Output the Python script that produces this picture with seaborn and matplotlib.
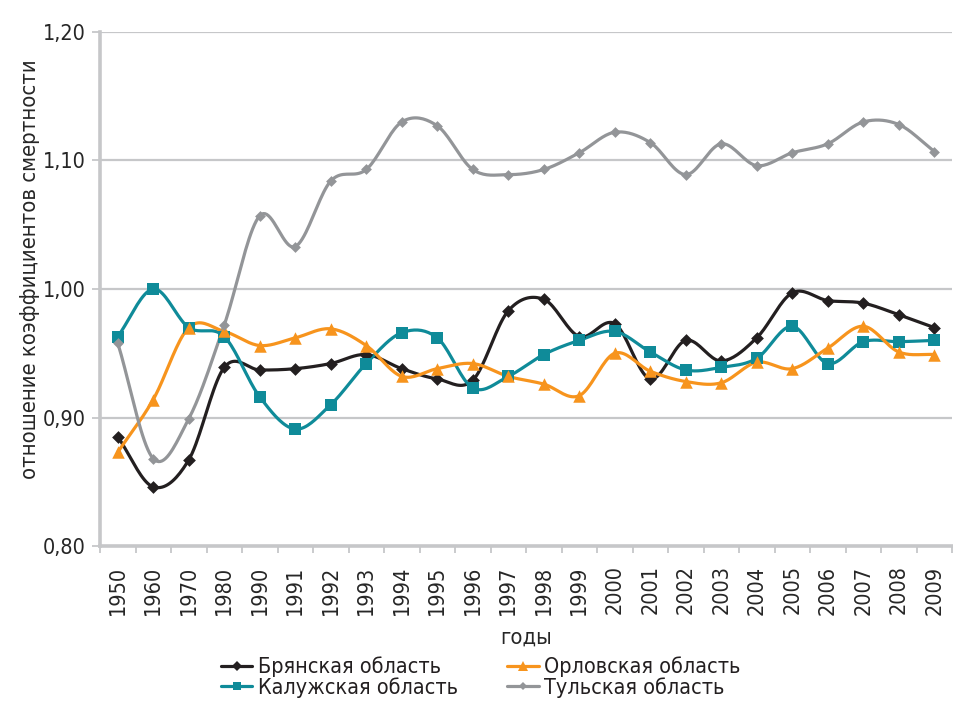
import numpy as np
import pandas as pd
import matplotlib
matplotlib.use("Agg")
import matplotlib.pyplot as plt
from matplotlib import font_manager
from matplotlib.ft2font import FT2Font
from matplotlib.lines import Line2D
from matplotlib.ticker import FixedLocator
import seaborn as sns

years = ["1950", "1960", "1970", "1980", "1990", "1991", "1992", "1993", "1994", "1995",
         "1996", "1997", "1998", "1999", "2000", "2001", "2002", "2003", "2004", "2005",
         "2006", "2007", "2008", "2009"]

bryansk = [0.885, 0.846, 0.867, 0.939, 0.937, 0.938, 0.942, 0.949, 0.938, 0.930,
           0.929, 0.983, 0.992, 0.963, 0.973, 0.930, 0.960, 0.944, 0.962, 0.997,
           0.991, 0.989, 0.980, 0.970]
kaluga = [0.963, 1.000, 0.970, 0.963, 0.916, 0.891, 0.910, 0.942, 0.966, 0.962,
          0.923, 0.932, 0.949, 0.960, 0.967, 0.951, 0.937, 0.939, 0.946, 0.971,
          0.942, 0.959, 0.959, 0.960]
orel = [0.873, 0.914, 0.970, 0.967, 0.956, 0.962, 0.969, 0.956, 0.932, 0.938,
        0.942, 0.932, 0.926, 0.917, 0.950, 0.936, 0.928, 0.927, 0.943, 0.938,
        0.954, 0.971, 0.951, 0.949]
tula = [0.958, 0.868, 0.899, 0.972, 1.057, 1.033, 1.084, 1.093, 1.130, 1.127,
        1.093, 1.089, 1.093, 1.106, 1.122, 1.114, 1.089, 1.113, 1.096, 1.106,
        1.113, 1.130, 1.128, 1.107]

series_names = ["Брянская область", "Калужская область", "Орловская область", "Тульская область"]
series_values = [bryansk, kaluga, orel, tula]
colors = ["#231f20", "#0f8b99", "#f7941d", "#939598"]
markers = ["D", "s", "^", "D"]
msizes = [6.5, 8, 9, 5.5]

y_ticks = [0.80, 0.90, 1.00, 1.10, 1.20]
y_tick_labels = ["0,80", "0,90", "1,00", "1,10", "1,20"]

sns.set_theme(style="white")


def has_cyrillic(path):
    try:
        cm = FT2Font(path).get_charmap()
        return all(ord(ch) in cm for ch in "БяКлужТьыоd0")
    except Exception:
        return False


chosen = None
for f in font_manager.fontManager.ttflist:
    is_narrow = ("Narrow" in f.name or "Condensed" in f.name
                 or f.stretch in ("condensed", "semi-condensed"))
    if is_narrow and f.style == "normal" and f.weight in (400, "normal", "regular") \
            and has_cyrillic(f.fname):
        chosen = f
        break

if chosen is not None:
    plt.rcParams["font.family"] = [chosen.name, "DejaVu Sans"]
    plt.rcParams["font.stretch"] = chosen.stretch
    fs_tick, fs_lab, fs_leg = 15.5, 15.8, 15.5
else:
    avail = {f.name for f in font_manager.fontManager.ttflist}
    plt.rcParams["font.family"] = [f for f in ["Open Sans", "DejaVu Sans"] if f in avail]
    fs_tick, fs_lab, fs_leg = 14.5, 15, 15
plt.rcParams["text.color"] = "#231f20"


def catmull_rom(x, y, n=20):
    x = np.asarray(x, float)
    y = np.asarray(y, float)
    px = np.concatenate([[2 * x[0] - x[1]], x, [2 * x[-1] - x[-2]]])
    py = np.concatenate([[2 * y[0] - y[1]], y, [2 * y[-1] - y[-2]]])
    xs, ys = [], []
    t = np.linspace(0, 1, n, endpoint=False)
    for i in range(1, len(px) - 2):
        p0, p1, p2, p3 = py[i - 1], py[i], py[i + 1], py[i + 2]
        q0, q1, q2, q3 = px[i - 1], px[i], px[i + 1], px[i + 2]
        t2, t3 = t * t, t * t * t
        ys.append(0.5 * (2 * p1 + (-p0 + p2) * t + (2 * p0 - 5 * p1 + 4 * p2 - p3) * t2 + (-p0 + 3 * p1 - 3 * p2 + p3) * t3))
        xs.append(0.5 * (2 * q1 + (-q0 + q2) * t + (2 * q0 - 5 * q1 + 4 * q2 - q3) * t2 + (-q0 + 3 * q1 - 3 * q2 + q3) * t3))
    xs.append([x[-1]])
    ys.append([y[-1]])
    return np.concatenate(xs), np.concatenate(ys)


fig = plt.figure(figsize=(9.54, 7.06), dpi=100)
ax = fig.add_axes([100 / 954, 1 - 546 / 706, 852 / 954, 514 / 706])

idx = np.arange(len(years))
grid_c = "#c6c7c9"
for yv in y_ticks[1:]:
    ax.axhline(yv, color=grid_c, lw=1.6, zorder=0)

handles = []
for name, vals, c, m, ms in zip(series_names, series_values, colors, markers, msizes):
    sx, sy = catmull_rom(idx, vals)
    dense = pd.DataFrame({"x": sx, "y": sy})
    sns.lineplot(data=dense, x="x", y="y", ax=ax, color=c, lw=2.3, sort=False, zorder=3)
    pts = pd.DataFrame({"x": idx, "y": vals})
    sns.scatterplot(data=pts, x="x", y="y", ax=ax, color=c, marker=m, s=ms ** 2,
                    edgecolor=c, linewidth=0, zorder=4)
    handles.append(Line2D([], [], color=c, lw=2.3, marker=m, markersize=ms * 0.8,
                          markeredgewidth=0))

ax.set_xlim(-0.5, len(years) - 0.5)
ax.set_ylim(0.80, 1.20)
ax.set_yticks(y_ticks)
ax.set_yticklabels(y_tick_labels, fontsize=fs_tick)
ax.set_xticks(idx)
ax.set_xticklabels(years, rotation=90, fontsize=fs_tick)
ax.xaxis.set_minor_locator(FixedLocator(np.arange(-0.5, len(years), 1.0)))
ax.tick_params(axis="x", which="major", length=0, pad=14)
ax.tick_params(axis="x", which="minor", length=5, width=1.3, color=grid_c, bottom=True)
ax.tick_params(axis="y", length=6, width=1.3, color=grid_c, left=True, pad=4)

for s in ["top", "right"]:
    ax.spines[s].set_visible(False)
ax.spines["left"].set_color(grid_c)
ax.spines["left"].set_linewidth(2.6)
ax.spines["bottom"].set_color(grid_c)
ax.spines["bottom"].set_linewidth(2.6)

ax.set_xlabel("годы", fontsize=fs_lab, labelpad=9)
ax.set_ylabel("отношение коэффициентов смертности", fontsize=fs_lab)
ax.yaxis.set_label_coords(-0.071, 0.539)

leg = fig.legend(handles, series_names, loc="lower center", bbox_to_anchor=(0.504, -0.007),
                 ncol=2, frameon=False, fontsize=fs_leg, labelspacing=0.0,
                 handlelength=1.45, handletextpad=0.25, columnspacing=2.3, borderpad=0.1)

fig.savefig("out.png", dpi=100)
